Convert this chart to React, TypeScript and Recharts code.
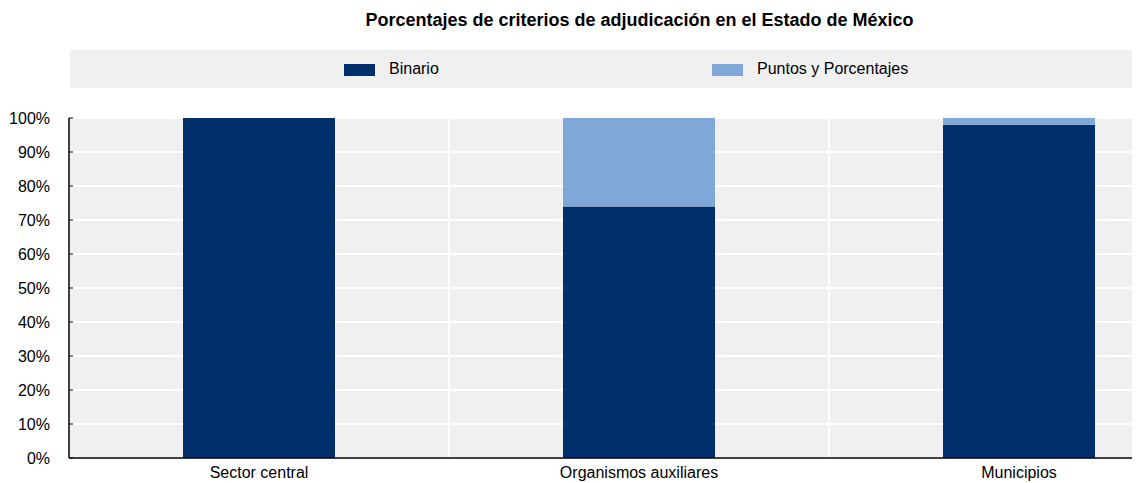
import { BarChart, Bar, CartesianGrid, XAxis, YAxis, Legend } from "recharts";

const categories = ["Sector central", "Organismos auxiliares", "Municipios"];
const binario = [100, 74, 98];
const puntos = [0, 26, 2];
const yTicks = [0, 10, 20, 30, 40, 50, 60, 70, 80, 90, 100];

const data = categories.map((name, i) => ({
  name,
  binario: binario[i],
  puntos: puntos[i],
}));

const FONT = "'Liberation Sans', Arial, sans-serif";
const DARK = "#002F6C";
const LIGHT = "#7FA8D9";

function TopLegend() {
  return (
    <div style={{ fontFamily: FONT, width: 1220, position: "relative" }}>
      <div
        style={{
          position: "absolute",
          left: 62,
          width: 1139,
          top: 0,
          textAlign: "center",
          fontWeight: "bold",
          fontSize: 18,
          lineHeight: "24px",
          color: "#000",
        }}
      >
        Porcentajes de criterios de adjudicación en el Estado de México
      </div>
      <div
        style={{
          position: "absolute",
          left: 62,
          top: 42,
          width: 1139,
          height: 38,
          background: "#F0F0F0",
          fontSize: 16,
          lineHeight: "20px",
          color: "#000",
        }}
      >
        <span style={{ position: "absolute", left: 274, top: 14, width: 31, height: 12, background: DARK }} />
        <span style={{ position: "absolute", left: 319, top: 9 }}>Binario</span>
        <span style={{ position: "absolute", left: 642, top: 14, width: 31, height: 12, background: LIGHT }} />
        <span style={{ position: "absolute", left: 687, top: 9 }}>Puntos y Porcentajes</span>
      </div>
    </div>
  );
}

export default function App() {
  return (
    <div style={{ width: 1132, height: 475, overflow: "hidden", position: "relative" }}>
      <BarChart
        width={1220}
        height={475}
        data={data}
        margin={{ top: 110, right: 19, bottom: 0, left: 0 }}
        barCategoryGap="30%"
      >
        <CartesianGrid
          fill="#F0F0F0"
          stroke="#FFFFFF"
          strokeWidth={2}
          verticalCoordinatesGenerator={({ offset }: any) =>
            categories.map((_, i) => offset.left + (i * offset.width) / categories.length)
          }
        />
        <XAxis
          dataKey="name"
          height={25}
          axisLine={{ stroke: "#000", strokeWidth: 1.5 }}
          tickLine={false}
          tickSize={0}
          tickMargin={9}
          tick={{ fontFamily: FONT, fontSize: 16, fill: "#000" }}
        />
        <YAxis
          width={61}
          domain={[0, 100]}
          ticks={yTicks}
          interval={0}
          tickFormatter={(v: number) => `${v}%`}
          axisLine={{ stroke: "#000", strokeWidth: 1.5 }}
          tickLine={{ stroke: "#000" }}
          tickSize={-4}
          tickMargin={23}
          tick={{ fontFamily: FONT, fontSize: 16, fill: "#000" }}
        />
        <Legend
          verticalAlign="middle"
          align="center"
          content={() => <TopLegend />}
          wrapperStyle={{ top: 0, left: 0, width: 1220, height: 0 }}
        />
        <Bar dataKey="binario" name="Binario" stackId="a" fill={DARK} isAnimationActive={false} />
        <Bar dataKey="puntos" name="Puntos y Porcentajes" stackId="a" fill={LIGHT} isAnimationActive={false} />
      </BarChart>
    </div>
  );
}
